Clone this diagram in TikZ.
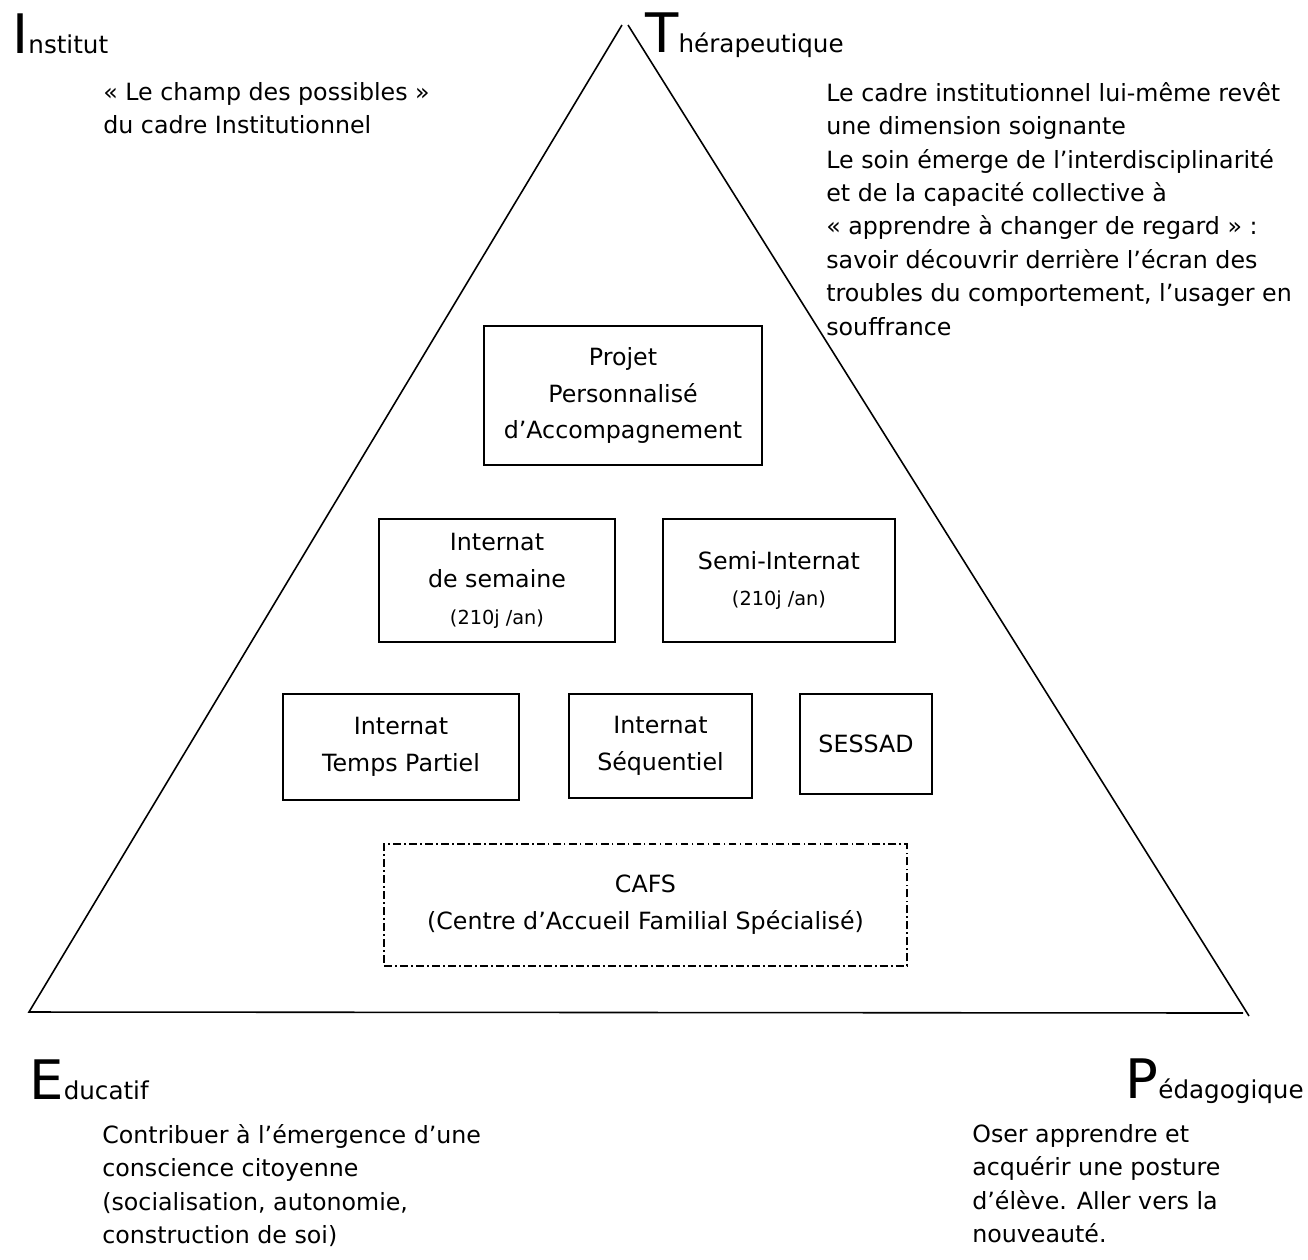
\documentclass[tikz,border=0pt]{standalone}
\usepackage{fontspec}
\setmainfont{DejaVu Sans}
\newcommand{\bodyfont}{\fontsize{13.5}{19}\selectfont}
\newcommand{\boxfont}{\fontsize{13.5}{21}\selectfont}
\newcommand{\smallboxfont}{\fontsize{11}{14}\selectfont}
\newcommand{\bigletter}{\fontsize{31}{36}\selectfont}
\newcommand{\labelfont}{\fontsize{14}{17}\selectfont}

\begin{document}
\begin{tikzpicture}[x=0.02cm, y=-0.02cm,
		box/.style={draw, line width=1.1pt, align=center, inner sep=0pt, font=\boxfont},
		cafsbox/.style={box, line width=0.9pt, dash pattern=on 4.5pt off 1.8pt on 1pt off 1.8pt},
		corner/.style={anchor=base west, inner sep=0pt},
		para/.style={anchor=north west, align=left, inner sep=0pt, font=\bodyfont}]
			%%%%% START %%%%%
			
			\useasboundingbox (0, 0) rectangle (1308, 1259);
			
			% triangle
			\coordinate (apexL) at (622, 25);
			\coordinate (apexR) at (628, 25);
			\coordinate (baseL) at (29, 1012);
			\coordinate (baseE) at (1243, 1013);
			\coordinate (baseR) at (1249, 1016);
			\draw[line width=0.9pt] (apexL) -- (baseL) -- (baseE);
			\draw[line width=0.9pt] (apexR) -- (baseR);
			
			% corners
			\node[corner] (institut) at (12, 53) {{\bigletter I}{\labelfont nstitut}};
			\node[corner] (therap) at (645, 52) {{\bigletter T}{\labelfont hérapeutique}};
			\node[corner] (educ) at (29, 1099) {{\bigletter E}{\labelfont ducatif}};
			\node[corner, anchor=base east] (peda) at (1304, 1098) {{\bigletter P}{\labelfont édagogique}};
			
			\node[para] (institutText) at (103, 82) {« Le champ des possibles »\\du cadre Institutionnel};
			\node[para] (therapText) at (826, 82) {Le cadre institutionnel lui-même revêt\\une dimension soignante\\Le soin émerge de l’interdisciplinarité\\et de la capacité collective à\\« apprendre à changer de regard » :\\savoir découvrir derrière l’écran des\\troubles du comportement, l’usager en\\souffrance};
			\node[para] (educText) at (102, 1124) {Contribuer à l’émergence d’une\\conscience citoyenne\\(socialisation, autonomie,\\construction de soi)};
			\node[para] (pedaText) at (972, 1124) {Oser apprendre et\\acquérir une posture\\d’élève. Aller vers la\\nouveauté.};
			
			% boxes
			\node[box, minimum width=5.56cm, minimum height=2.78cm] (ppa) at (623, 395.5) {Projet\\Personnalisé\\d’Accompagnement};
			\node[box, minimum width=4.72cm, minimum height=2.46cm] (semaine) at (497, 580.5) {Internat\\de semaine\\{\smallboxfont (210j /an)}};
			\node[box, minimum width=4.64cm, minimum height=2.46cm] (semi) at (779, 580.5) {Semi-Internat\\{\smallboxfont (210j /an)}};
			\node[box, minimum width=4.72cm, minimum height=2.12cm] (partiel) at (401, 747) {Internat\\Temps Partiel};
			\node[box, minimum width=3.66cm, minimum height=2.08cm] (sequentiel) at (660.5, 746) {Internat\\Séquentiel};
			\node[box, minimum width=2.64cm, minimum height=2.0cm] (sessad) at (866, 744) {SESSAD};
			\node[cafsbox, minimum width=10.46cm, minimum height=2.44cm] (cafs) at (645.5, 905) {CAFS\\(Centre d’Accueil Familial Spécialisé)};
			
			%%%%% END %%%%%
\end{tikzpicture}
\end{document}
